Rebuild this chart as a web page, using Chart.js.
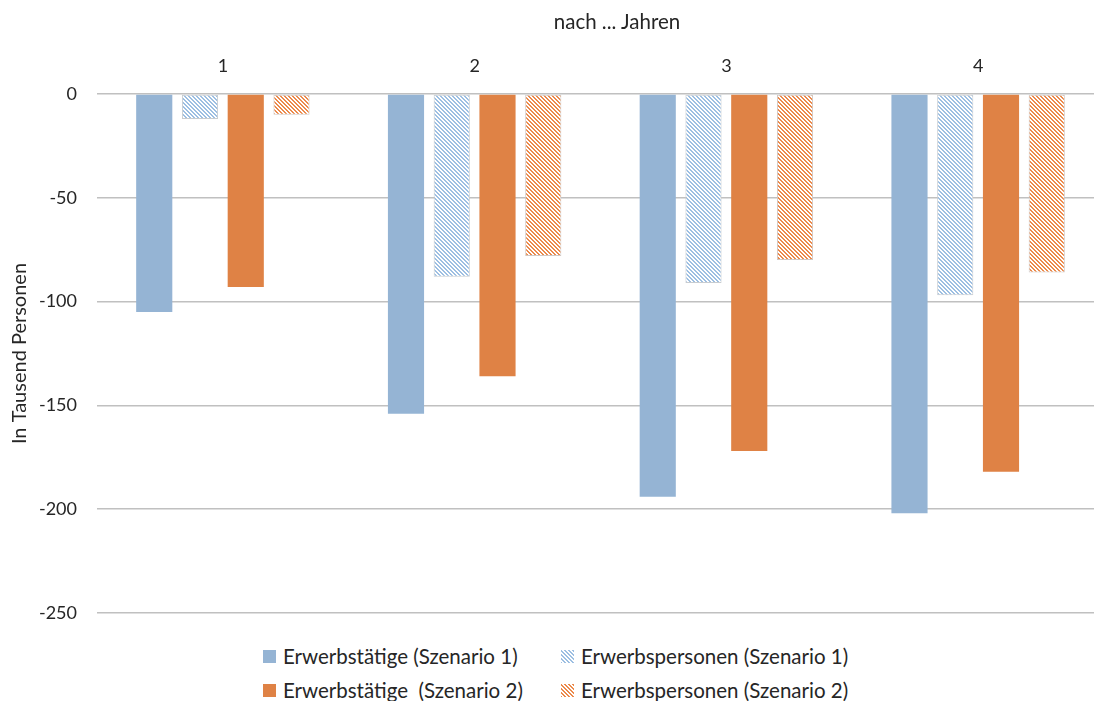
<!DOCTYPE html>
<html>
<head>
<meta charset="utf-8">
<script src="https://cdn.jsdelivr.net/npm/chart.js@4/dist/chart.umd.min.js"></script>
<style>
  html, body { margin: 0; padding: 0; background: #fff; }
  #wrap { position: relative; width: 1094px; height: 701px; overflow: hidden; }
  #chartBox { position: absolute; left: 0; top: 0; width: 1094px; height: 633px; }
  #xTitle { position: absolute; left: 517px; top: 9px; width: 200px; text-align: center; font-family: Lato, "Open Sans", sans-serif; font-size: 20.5px; line-height: 24px; color: #262626; white-space: pre; }
  #legend { position: absolute; left: 0; top: 644px; width: 1094px; font-family: Lato, "Open Sans", sans-serif; font-size: 20.5px; line-height: 24px; color: #262626; }
  .item { position: absolute; display: flex; align-items: center; white-space: pre; height: 24px; }
  .sw { width: 13px; height: 13px; margin-right: 7px; }
</style>
</head>
<body>
<div id="wrap">
  <div id="chartBox"><canvas id="c"></canvas></div>
  <div id="xTitle"></div>
  <div id="legend"></div>
</div>
<script>
const categories = ['1', '2', '3', '4'];
const erwerbstaetigeS1 = [-105, -154, -194, -202];
const erwerbspersonenS1 = [-12, -88, -91, -97];
const erwerbstaetigeS2 = [-93, -136, -172, -182];
const erwerbspersonenS2 = [-10, -78, -80, -86];
const seriesLabels = ['Erwerbstätige (Szenario 1)', 'Erwerbspersonen (Szenario 1)', 'Erwerbstätige  (Szenario 2)', 'Erwerbspersonen (Szenario 2)'];
const yMin = -250, yMax = 0, yStep = 50;
const xTitle = 'nach ... Jahren';
const yTitle = 'In Tausend Personen';

const BLUE = '#95B4D4';
const ORANGE = '#DF8245';
const BLUE_H = '#9DBFE2';
const ORANGE_H = '#EC8A4C';

function hexRgb(h) { return [1, 3, 5].map(i => parseInt(h.substr(i, 2), 16)); }
function hatch(color) {
  const s = 4;
  const cv = document.createElement('canvas');
  cv.width = s; cv.height = s;
  const g = cv.getContext('2d');
  const img = g.createImageData(s, s);
  const [r, gg, b] = hexRgb(color);
  for (let y = 0; y < s; y++) {
    for (let x = 0; x < s; x++) {
      const on = ((x - y + 8) % 4) < 2;
      const k = (y * s + x) * 4;
      img.data[k] = on ? r : 255;
      img.data[k + 1] = on ? gg : 255;
      img.data[k + 2] = on ? b : 255;
      img.data[k + 3] = 255;
    }
  }
  g.putImageData(img, 0, 0);
  return g.createPattern(cv, 'repeat');
}

const TEXT_FONT = 'Lato, "Open Sans", sans-serif';
const TXT = '#262626';

const datasets = [
  { label: seriesLabels[0], data: erwerbstaetigeS1, backgroundColor: BLUE, borderWidth: 0, swatch: BLUE, hatched: false },
  { label: seriesLabels[1], data: erwerbspersonenS1, backgroundColor: hatch(BLUE_H), borderColor: '#C8CCD0', borderWidth: 1, swatch: BLUE_H, hatched: true },
  { label: seriesLabels[2], data: erwerbstaetigeS2, backgroundColor: ORANGE, borderWidth: 0, swatch: ORANGE, hatched: false },
  { label: seriesLabels[3], data: erwerbspersonenS2, backgroundColor: hatch(ORANGE_H), borderColor: '#D0C8C4', borderWidth: 1, swatch: ORANGE_H, hatched: true }
];

// The reference plot area continues ~10px beyond the right edge of the picture
const extendRight = {
  id: 'extendRight',
  afterLayout(chart) {
    const R = chart.width + 10;
    chart.chartArea.right = R;
    chart.chartArea.width = R - chart.chartArea.left;
    const x = chart.scales.x;
    x.right = R;
    x.width = R - x.left;
    x.configure();
  }
};

const chart = new Chart(document.getElementById('c'), {
  type: 'bar',
  data: { labels: categories, datasets: datasets.map(d => ({
    label: d.label, data: d.data, backgroundColor: d.backgroundColor,
    borderColor: d.borderColor, borderWidth: d.borderWidth, borderSkipped: false,
    categoryPercentage: 0.727, barPercentage: 0.79
  })) },
  plugins: [extendRight],
  options: {
    responsive: true,
    maintainAspectRatio: false,
    animation: false,
    layout: { padding: { top: 4, left: 8, right: 0, bottom: 20 } },
    plugins: { legend: { display: false }, tooltip: { enabled: false } },
    scales: {
      x: {
        position: 'top',
        afterFit: (s) => { s.height = 90; s.paddingLeft = 0; s.paddingRight = 0; },
        grid: { display: false, drawTicks: false, tickLength: 0 },
        border: { display: false },
        ticks: { font: { family: TEXT_FONT, size: 18 }, color: TXT, padding: 17 },
        title: { display: false }
      },
      y: {
        min: yMin, max: yMax,
        afterFit: (s) => { s.width = 89; s.paddingTop = 0; s.paddingBottom = 0; },
        grid: { color: '#C0C0C0', lineWidth: 1.5, drawTicks: false, tickLength: 0 },
        border: { display: false },
        ticks: { stepSize: yStep, font: { family: TEXT_FONT, size: 18 }, color: TXT, padding: 20 },
        title: { display: true, text: yTitle, font: { family: TEXT_FONT, size: 20 }, color: TXT, padding: { top: 0, bottom: 7 } }
      }
    }
  }
});

document.getElementById('xTitle').textContent = xTitle;

// HTML legend built from the chart datasets
const legend = document.getElementById('legend');
const pos = [[263, 0], [561, 0], [263, 34], [561, 34]];
datasets.forEach((d, i) => {
  const it = document.createElement('div');
  it.className = 'item';
  it.style.left = pos[i][0] + 'px';
  it.style.top = pos[i][1] + 'px';
  const sw = document.createElement('div');
  sw.className = 'sw';
  if (d.hatched) {
    sw.style.background = `repeating-linear-gradient(45deg, ${d.swatch} 0 1.4px, #fff 1.4px 2.8px)`;
  } else {
    sw.style.background = d.swatch;
  }
  const tx = document.createElement('span');
  tx.textContent = d.label;
  it.appendChild(sw); it.appendChild(tx);
  legend.appendChild(it);
});
</script>
</body>
</html>
